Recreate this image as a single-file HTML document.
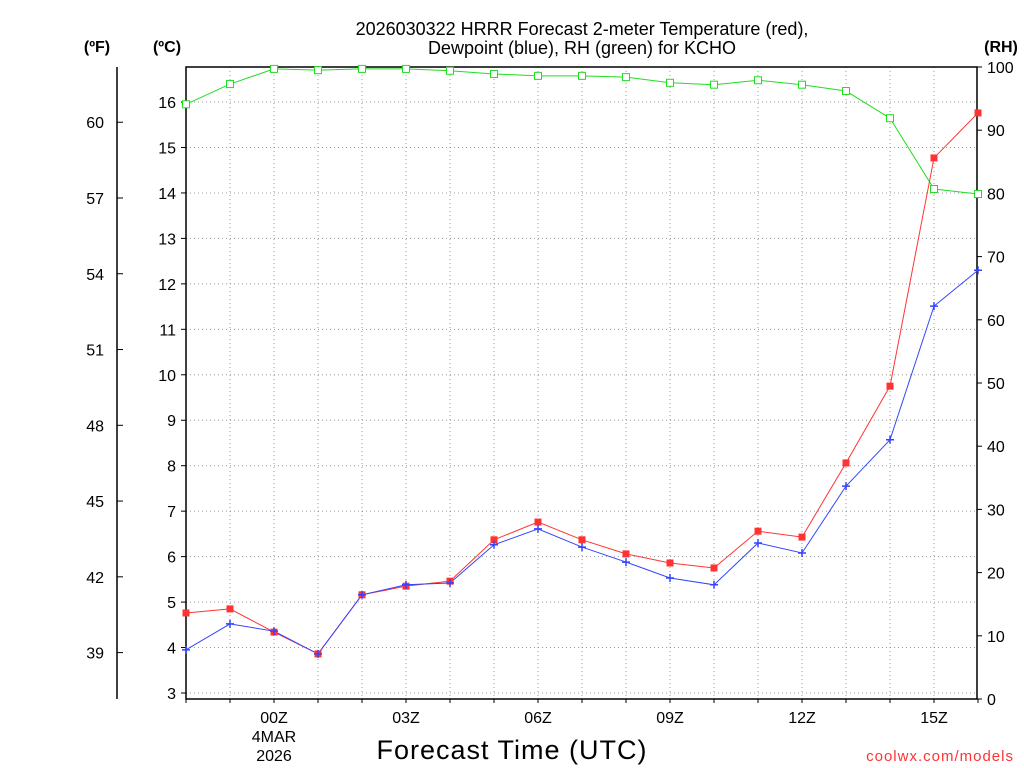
<!DOCTYPE html>
<html><head><meta charset="utf-8"><style>
body{margin:0;background:#fff;}
svg{display:block;font-family:"Liberation Sans",sans-serif;}
</style></head><body>
<svg id="chart" width="1024" height="768" viewBox="0 0 1024 768">
<g id="grid"></g>
<g id="axes"></g>
<g id="series"></g>
<text x="582" y="35" font-size="18" text-anchor="middle">2026030322 HRRR Forecast 2-meter Temperature (red),</text>
<text x="582" y="54" font-size="18" text-anchor="middle">Dewpoint (blue), RH (green) for KCHO</text>
<text x="97" y="52" font-size="16" font-weight="bold" text-anchor="middle">(ºF)</text>
<text x="167" y="52" font-size="16" font-weight="bold" text-anchor="middle">(ºC)</text>
<text x="1001" y="52" font-size="16" font-weight="bold" text-anchor="middle">(RH)</text>
<text x="512" y="759" font-size="27" text-anchor="middle" letter-spacing="1">Forecast Time (UTC)</text>
<text x="1014" y="761" font-size="15" fill="#ff3333" text-anchor="end" letter-spacing="1">coolwx.com/models</text>
</svg>
<script>
const hours=[-2,-1,0,1,2,3,4,5,6,7,8,9,10,11,12,13,14,15,16];
const tempC=[4.76,4.85,4.34,3.86,5.16,5.35,5.46,6.37,6.76,6.37,6.06,5.86,5.75,6.56,6.43,8.06,9.75,14.77,15.76];
const dewC=[3.95,4.52,4.36,3.86,5.16,5.38,5.42,6.26,6.61,6.21,5.88,5.53,5.38,6.30,6.08,7.55,8.57,11.51,12.30];
const rh=[94.1,97.3,99.7,99.5,99.7,99.7,99.4,98.9,98.6,98.6,98.4,97.5,97.2,97.9,97.2,96.2,91.9,80.7,79.9];
const cTicks=[3,4,5,6,7,8,9,10,11,12,13,14,15,16];
const fTicks=[39,42,45,48,51,54,57,60];
const rhTicks=[0,10,20,30,40,50,60,70,80,90,100];
const xTickHours=[0,3,6,9,12,15];
const xTickLabels=["00Z","03Z","06Z","09Z","12Z","15Z"];
const NS="http://www.w3.org/2000/svg";
const X0=186,X1=977,Y0=67,Y1=699;
const xs=h=>274+h*44;
const yC=c=>693-(c-3)*45.46;
const yF=f=>yC((f-32)/1.8);
const yR=r=>699-r*6.32;
function mk(parent,tag,attrs){const e=document.createElementNS(NS,tag);for(const k in attrs)e.setAttribute(k,attrs[k]);document.getElementById(parent).appendChild(e);return e;}
// grid
hours.forEach(h=>{if(h>-2&&h<16){const l=mk('grid','line',{x1:xs(h),x2:xs(h),y1:Y0,y2:Y1,stroke:'#999','stroke-dasharray':'1,3'});

}});
cTicks.forEach(c=>{const l=mk('grid','line',{x1:X0,x2:X1,y1:yC(c),y2:yC(c),stroke:'#999','stroke-dasharray':'1,3'});

});
// frame
const fr=mk('axes','rect',{x:X0,y:Y0,width:X1-X0,height:Y1-Y0,fill:'none',stroke:'#000','stroke-width':1.5});


const fl=mk('axes','line',{x1:117,x2:117,y1:Y0,y2:Y1,stroke:'#000','stroke-width':1.5});


cTicks.forEach(c=>{mk('axes','line',{x1:X0-5,x2:X0,y1:yC(c),y2:yC(c),stroke:'#000'});
const t=mk('axes','text',{x:X0-10,y:yC(c)+6,'font-size':16,'text-anchor':'end'});t.textContent=c;

});
fTicks.forEach(f=>{mk('axes','line',{x1:117,x2:123,y1:yF(f),y2:yF(f),stroke:'#000'});
const t=mk('axes','text',{x:104,y:yF(f)+6,'font-size':16,'text-anchor':'end'});t.textContent=f;

});
rhTicks.forEach(r=>{mk('axes','line',{x1:X1,x2:X1+5,y1:yR(r),y2:yR(r),stroke:'#000'});
const t=mk('axes','text',{x:X1+10,y:yR(r)+6,'font-size':16,'text-anchor':'start'});t.textContent=r;

});
hours.forEach(h=>{mk('axes','line',{x1:xs(h),x2:xs(h),y1:Y1,y2:Y1+4,stroke:'#000'});});
xTickHours.forEach((h,i)=>{const t=mk('axes','text',{x:xs(h),y:723,'font-size':16,'text-anchor':'middle'});t.textContent=xTickLabels[i];

});
[["4MAR",742],["2026",761]].forEach(([s,y])=>{const t=mk('axes','text',{x:xs(0),y:y,'font-size':16,'text-anchor':'middle'});t.textContent=s;

});
// series
function line(vals,yf,color,name){const p=mk('series','polyline',{points:hours.map((h,i)=>xs(h)+','+yf(vals[i])).join(' '),fill:'none',stroke:color,'stroke-width':1});

}
line(rh,yR,'#22dd22','rh-line');
line(tempC,yC,'#ff3333','temperature-line');
line(dewC,yC,'#3344ff','dewpoint-line');
hours.forEach((h,i)=>{const m=mk('series','rect',{x:xs(h)-3.5,y:yR(rh[i])-3.5,width:7,height:7,fill:'#fff',stroke:'#22dd22'});

});
hours.forEach((h,i)=>{const m=mk('series','rect',{x:xs(h)-3.5,y:yC(tempC[i])-3.5,width:7,height:7,fill:'#ff3333'});

});
hours.forEach((h,i)=>{const x=xs(h),y=yC(dewC[i]);const m=mk('series','path',{d:`M${x-4},${y}H${x+4}M${x},${y-4}V${y+4}`,stroke:'#3344ff','stroke-width':1.5});

});
</script>
</body></html>
